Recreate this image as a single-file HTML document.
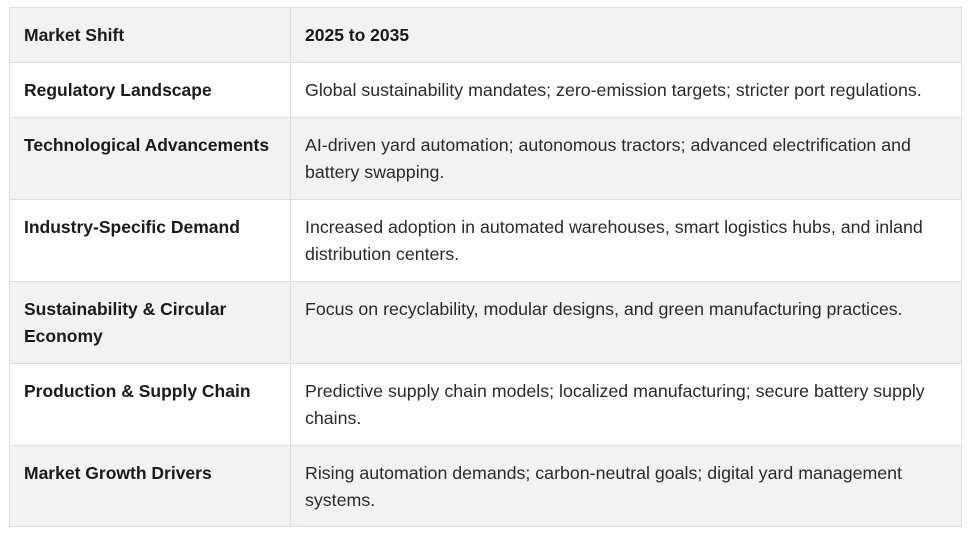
<!DOCTYPE html>
<html><head><meta charset="utf-8">
<style>
html,body{margin:0;padding:0;background:#fff;width:969px;height:536px;overflow:hidden;}
body{font-family:"Liberation Sans",sans-serif;color:#222;}
.tbl{position:absolute;left:9px;top:7px;width:953px;height:520px;border:1px solid #dddde3;box-sizing:border-box;}
.row{position:absolute;left:0;width:951px;border-bottom:1px solid #dddde3;box-sizing:border-box;}
.row.g{background:#f2f2f2}
.row.w{background:#fff}
.c1,.c2{position:absolute;top:0;white-space:nowrap;line-height:27px;padding-top:14px;}
.c1{left:14px;font-weight:bold;color:#1a1a1a;font-size:17.5px}
.c2{left:295px;color:#2a2a2a;font-size:17.8px}
.row .sep{position:absolute;left:280px;top:0;bottom:0;width:1px;background:#dddde3}
.hdr .c2{font-weight:bold;color:#1a1a1a;font-size:17.5px}
</style></head><body>
<div class="tbl">
 <div class="row g hdr" style="top:0;height:55px"><div class="sep"></div>
  <div class="c1">Market Shift</div>
  <div class="c2">2025 to 2035</div></div>
 <div class="row w" style="top:55px;height:55px"><div class="sep"></div>
  <div class="c1">Regulatory Landscape</div>
  <div class="c2">Global sustainability mandates; zero-emission targets; stricter port regulations.</div></div>
 <div class="row g" style="top:110px;height:82px"><div class="sep"></div>
  <div class="c1">Technological Advancements</div>
  <div class="c2">AI-driven yard automation; autonomous tractors; advanced electrification and<br>battery swapping.</div></div>
 <div class="row w" style="top:192px;height:82px"><div class="sep"></div>
  <div class="c1">Industry-Specific Demand</div>
  <div class="c2">Increased adoption in automated warehouses, smart logistics hubs, and inland<br>distribution centers.</div></div>
 <div class="row g" style="top:274px;height:82px"><div class="sep"></div>
  <div class="c1">Sustainability &amp; Circular<br>Economy</div>
  <div class="c2">Focus on recyclability, modular designs, and green manufacturing practices.</div></div>
 <div class="row w" style="top:356px;height:82px"><div class="sep"></div>
  <div class="c1">Production &amp; Supply Chain</div>
  <div class="c2">Predictive supply chain models; localized manufacturing; secure battery supply<br>chains.</div></div>
 <div class="row g" style="top:438px;height:80px;border-bottom:none"><div class="sep"></div>
  <div class="c1">Market Growth Drivers</div>
  <div class="c2">Rising automation demands; carbon-neutral goals; digital yard management<br>systems.</div></div>
</div>
</body></html>
